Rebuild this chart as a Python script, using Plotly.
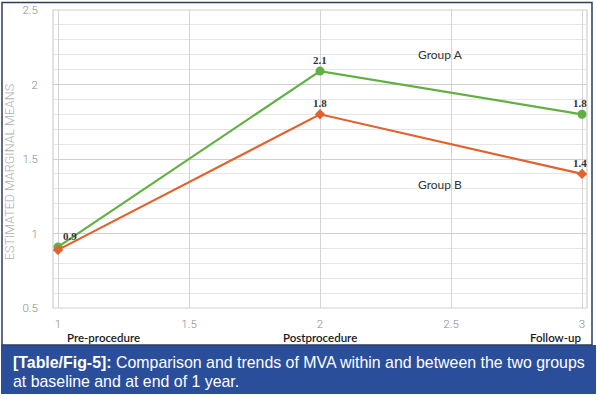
import plotly.graph_objects as go

timepoints = [1, 2, 3]
categories = ["Pre-procedure", "Postprocedure", "Follow-up"]
group_a = [0.91, 2.09, 1.80]
group_b = [0.89, 1.80, 1.40]
labels_a = ["0.9", "2.1", "1.8"]
labels_b = ["", "1.8", "1.4"]
y_ticks = [0.5, 1, 1.5, 2, 2.5]
x_ticks = [1, 1.5, 2, 2.5, 3]

W, H = 597, 399
L, R, T, B = 53, 587, 10, 308  # plot area in px
pw, ph = R - L, B - T

def px(x):
    return (x - L) / pw

def py(y):
    return (B - y) / ph

green = "#62b044"
orange = "#e0622c"

fig = go.Figure()
fig.add_trace(go.Scatter(x=timepoints, y=group_a, mode="lines+markers",
                         line=dict(color=green, width=2.2),
                         marker=dict(symbol="circle", size=9, color=green),
                         cliponaxis=False, showlegend=False))
fig.add_trace(go.Scatter(x=timepoints, y=group_b, mode="lines+markers",
                         line=dict(color=orange, width=2.2),
                         marker=dict(symbol="diamond", size=8, color=orange),
                         cliponaxis=False, showlegend=False))

ann = []
lab_font = dict(family="Liberation Serif, Times New Roman, serif", size=11, color="#333333")
for i, (x, y, t) in enumerate(zip(timepoints, group_a, labels_a)):
    if t:
        ann.append(dict(x=x, y=y, text="<b>" + t + "</b>", showarrow=False, font=lab_font,
                        xref="x", yref="y", yshift=11, xshift=(12 if i == 0 else (-2 if i == 2 else 0))))
for i, (x, y, t) in enumerate(zip(timepoints, group_b, labels_b)):
    if t:
        ann.append(dict(x=x, y=y, text="<b>" + t + "</b>", showarrow=False, font=lab_font,
                        xref="x", yref="y", yshift=11, xshift=(-2 if i == 2 else 0)))

anchors = ["left", "center", "right"]
shifts = [7, 0, 1]
for x, c, a, s in zip(timepoints, categories, anchors, shifts):
    ann.append(dict(x=x, xref="x", y=py(337), yref="paper", text=c,
                    showarrow=False, xanchor=a, xshift=s, yanchor="middle",
                    font=dict(family="Lato, sans-serif", size=11.5, color="#1a1a1a", weight=600)))

grp_font = dict(family="Lato, sans-serif", size=12, color="#333333")
ann.append(dict(x=2.458, y=2.2, xref="x", yref="y", text="Group A", showarrow=False, font=grp_font))
ann.append(dict(x=2.458, y=1.327, xref="x", yref="y", text="Group B", showarrow=False, font=grp_font))

ann.append(dict(x=px(9), y=py(172), xref="paper", yref="paper", text="ESTIMATED MARGINAL MEANS",
                textangle=-90, showarrow=False, xanchor="center", yanchor="middle",
                font=dict(family="Roboto, sans-serif", size=12.5, color="#b0b0b0", weight=300)))

cap_font = dict(family="Liberation Sans, Arial, sans-serif", size=15.9, color="white")
ann.append(dict(x=px(11), y=py(362), xref="paper", yref="paper", xanchor="left", yanchor="middle",
                text="<b>[Table/Fig-5]:</b> Comparison and trends of MVA within and between the two groups",
                showarrow=False, font=cap_font))
ann.append(dict(x=px(11), y=py(381), xref="paper", yref="paper", xanchor="left", yanchor="middle",
                text="at baseline and at end of 1 year.", showarrow=False, font=cap_font))

shapes = [
    dict(type="rect", xref="paper", yref="paper", x0=px(1), x1=px(596), y0=py(345), y1=py(394),
         fillcolor="#2b4e9b", line=dict(width=0), layer="above"),
    dict(type="rect", xref="paper", yref="paper", x0=px(2), x1=px(592), y0=py(345), y1=py(2.5),
         line=dict(color="#2a3d66", width=1.5), fillcolor="rgba(0,0,0,0)", layer="above"),
    dict(type="rect", xref="paper", yref="paper", x0=0, x1=1, y0=0, y1=1,
         line=dict(color="#d0d0d0", width=1.2), fillcolor="rgba(0,0,0,0)", layer="below"),
]

tick_font = dict(family="Roboto, sans-serif", size=11.5, color="#8a8a8a", weight=300)
fig.update_layout(
    width=W, height=H,
    margin=dict(l=L, r=W - R, t=T, b=H - B, pad=0, autoexpand=False),
    paper_bgcolor="white", plot_bgcolor="white",
    annotations=ann, shapes=shapes,
    xaxis=dict(range=[1 - 5 / 262, 3 + 5 / 262], tickvals=x_ticks, automargin=False,
               ticktext=[("%g" % v) for v in x_ticks], showgrid=True, gridcolor="#d4d4d4",
               gridwidth=1.2, zeroline=False, showline=False, ticks="", tickfont=tick_font,
               ticklabelstandoff=7),
    yaxis=dict(range=[0.5, 2.5], tickvals=y_ticks, ticktext=[("%g" % v) for v in y_ticks],
               automargin=False,
               showgrid=True, gridcolor="#cfcfcf", gridwidth=1.2, zeroline=False, showline=False,
               ticks="", tickfont=tick_font, ticklabelstandoff=14,
               minor=dict(dtick=0.1, tick0=0.5, showgrid=True, gridcolor="#e6e6e6", gridwidth=1)),
)

fig.write_html("out.html", config={"displayModeBar": False},
               post_script="document.body.style.margin='0';document.body.style.overflow='hidden';")
